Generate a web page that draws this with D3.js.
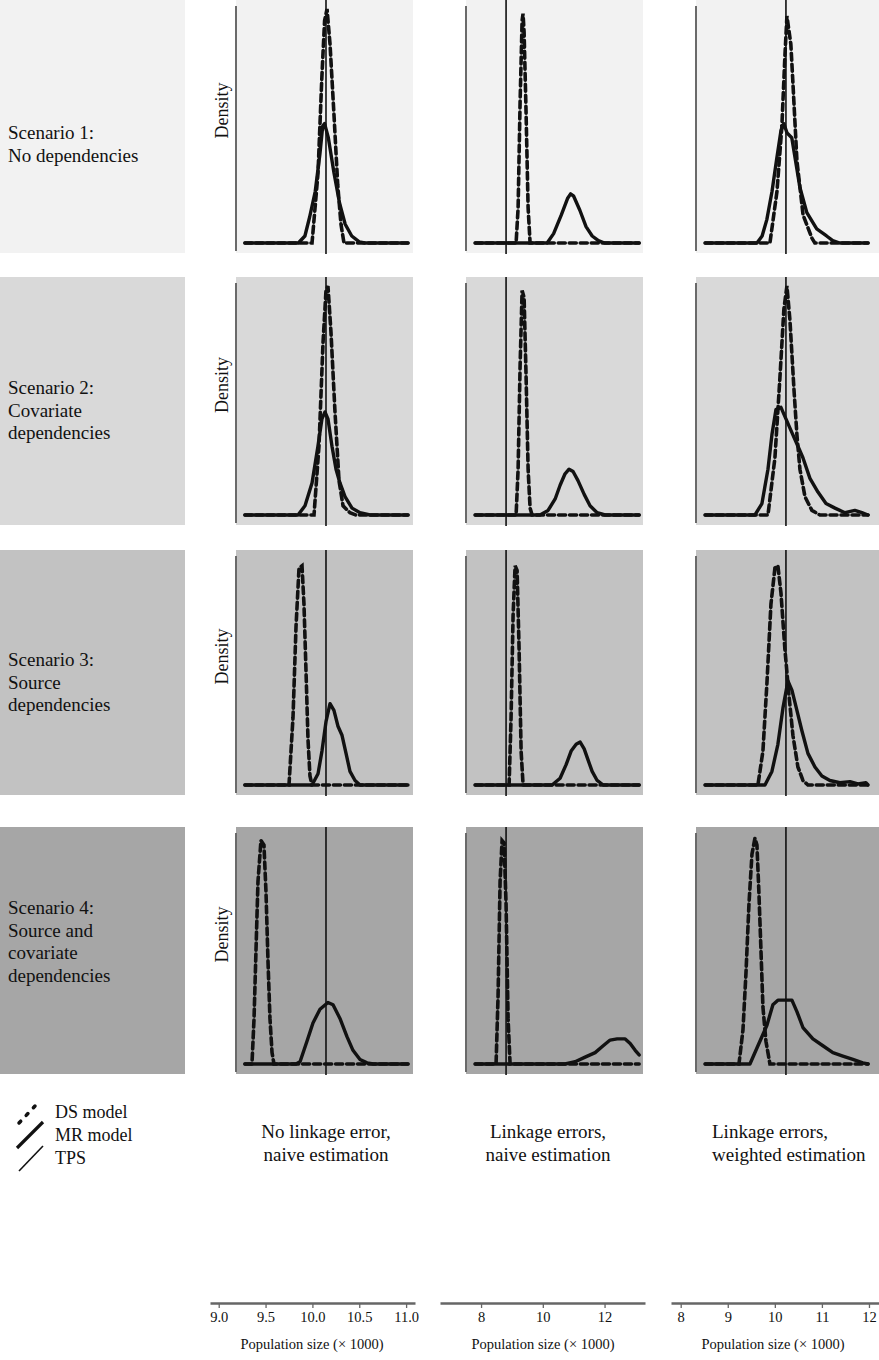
<!DOCTYPE html>
<html><head><meta charset="utf-8">
<script src="https://cdn.jsdelivr.net/npm/d3@7"></script>
<style>
html,body{margin:0;padding:0;background:#fff;}
svg{display:block;font-family:"Liberation Serif","Times New Roman",serif;}
</style></head>
<body>
<svg id="chart" width="879" height="1360"></svg>
<script>
// ---------------- DATA ----------------
const scenarioLabels = [
  ["Scenario 1:", "No dependencies"],
  ["Scenario 2:", "Covariate", "dependencies"],
  ["Scenario 3:", "Source", "dependencies"],
  ["Scenario 4:", "Source and", "covariate", "dependencies"]
];
const methodLabels = [
  ["No linkage error,", "naive estimation"],
  ["Linkage errors,", "naive estimation"],
  ["Linkage errors,", "weighted estimation"]
];
const axisTitle = "Population size (\u00d7 1000)";
const yLabel = "Density";
const legendLabels = ["DS model", "MR model", "TPS"];

const ticksNoError = [9.0, 9.5, 10.0, 10.5, 11.0];
const ticksNaive = [8, 10, 12];
const ticksWeighted = [8, 9, 10, 11, 12];

const domainNoError = [8.907, 11.095];
const domainNaive = [6.67, 13.31];
const domainWeighted = [7.794, 12.213];

// true population size line (TPS) per column
const tpsValues = [10.145, 8.81, 10.236];

// density curves: [population size (x1000), relative density 0-100]
// Scenario 1
const ds_s1_noError = [[9.28,0],[9.996,0],[10.06,30],[10.10,70],[10.13,95],[10.156,100],[10.188,85],[10.23,55],[10.27,25],[10.305,8],[10.337,0],[11.02,0]];
const mr_s1_noError = [[9.28,0],[9.85,0],[9.92,3],[9.97,11],[10.03,22],[10.08,38],[10.11,50],[10.13,51],[10.17,45],[10.23,30],[10.29,17],[10.35,8],[10.42,3],[10.5,0.5],[10.56,0],[11.02,0]];
const ds_s1_naive = [[7.81,0],[9.135,0],[9.20,15],[9.264,60],[9.329,95],[9.36,98],[9.394,90],[9.459,55],[9.524,15],[9.588,0],[13.12,0]];
const mr_s1_naive = [[7.81,0],[10.14,0],[10.35,4],[10.6,12],[10.8,19],[10.9,21],[11.0,20],[11.2,14],[11.4,7],[11.6,3],[11.8,1],[12.0,0],[13.12,0]];
const ds_s1_weighted = [[8.52,0],[9.896,0],[10.045,22],[10.15,50],[10.214,80],[10.257,97],[10.34,85],[10.38,70],[10.47,35],[10.60,12],[10.79,2],[10.85,0],[11.98,0]];
const mr_s1_weighted = [[8.52,0],[9.62,0],[9.73,3],[9.83,10],[9.94,22],[10.04,36],[10.13,48],[10.19,51],[10.26,47],[10.36,45],[10.53,24],[10.68,13],[10.89,6],[11.1,3],[11.23,1],[11.38,0],[11.98,0]];
// Scenario 2
const ds_s2_noError = [[9.28,0],[10.017,0],[10.07,30],[10.113,75],[10.145,98],[10.166,100],[10.198,80],[10.241,45],[10.284,15],[10.327,4],[10.401,1],[10.465,0],[11.02,0]];
const mr_s2_noError = [[9.28,0],[9.846,0],[9.921,4],[9.996,14],[10.059,30],[10.102,42],[10.134,45],[10.166,42],[10.209,30],[10.252,20],[10.294,14],[10.348,8],[10.423,3],[10.508,1],[10.615,0],[11.02,0]];
const ds_s2_naive = [[7.81,0],[9.135,0],[9.20,20],[9.264,65],[9.329,98],[9.394,95],[9.459,60],[9.524,20],[9.588,3],[9.653,0],[13.12,0]];
const mr_s2_naive = [[7.81,0],[9.91,0],[10.17,2],[10.40,7],[10.56,13],[10.72,18],[10.85,20],[10.98,19],[11.14,15],[11.34,9],[11.53,4],[11.76,1],[12.02,0],[13.12,0]];
const ds_s2_weighted = [[8.52,0],[9.854,0],[10.002,25],[10.108,60],[10.193,90],[10.257,100],[10.321,85],[10.406,55],[10.469,35],[10.533,20],[10.64,8],[10.788,2],[10.958,0],[11.98,0]];
const mr_s2_weighted = [[8.52,0],[9.577,0],[9.726,5],[9.854,20],[9.938,35],[10.023,46],[10.13,47],[10.236,42],[10.363,36],[10.491,30],[10.597,25],[10.746,16],[10.916,10],[11.087,5],[11.278,3],[11.49,1],[11.70,2],[11.85,1],[11.98,0]];
// Scenario 3
const ds_s3_noError = [[9.28,0],[9.75,0],[9.793,30],[9.825,70],[9.857,96],[9.889,97],[9.910,80],[9.932,50],[9.953,20],[9.974,4],[9.996,0],[11.02,0]];
const mr_s3_noError = [[9.28,0],[9.996,0],[10.06,5],[10.102,15],[10.145,28],[10.188,36],[10.23,33],[10.273,26],[10.316,22],[10.359,14],[10.401,6],[10.455,2],[10.508,0],[11.02,0]];
const ds_s3_naive = [[7.81,0],[8.908,0],[8.972,30],[9.037,75],[9.102,97],[9.167,95],[9.232,60],[9.297,15],[9.361,0],[13.12,0]];
const mr_s3_naive = [[7.81,0],[10.30,0],[10.56,3],[10.755,9],[10.917,15],[11.08,18],[11.21,19],[11.34,16],[11.468,11],[11.598,6],[11.76,2],[11.955,0],[13.12,0]];
const ds_s3_weighted = [[8.52,0],[9.641,0],[9.747,15],[9.832,45],[9.917,80],[10.002,96],[10.065,97],[10.13,85],[10.214,60],[10.299,40],[10.384,22],[10.49,8],[10.597,2],[10.703,0],[11.98,0]];
const mr_s3_weighted = [[8.52,0],[9.79,0],[9.938,6],[10.065,18],[10.172,34],[10.278,46],[10.363,42],[10.469,33],[10.575,24],[10.703,14],[10.852,8],[11.0,4],[11.17,2],[11.383,1],[11.595,1.5],[11.765,0.5],[11.935,1],[11.98,0]];
// Scenario 4
const ds_s4_noError = [[9.28,0],[9.355,0],[9.377,20],[9.398,50],[9.419,80],[9.451,98],[9.483,96],[9.505,75],[9.526,45],[9.547,20],[9.569,5],[9.59,0],[11.02,0]];
const mr_s4_noError = [[9.28,0],[9.825,0],[9.868,1],[9.942,10],[10.006,18],[10.081,24],[10.166,27],[10.22,26],[10.294,20],[10.369,12],[10.433,6],[10.508,2],[10.583,0.5],[10.65,0],[11.02,0]];
const ds_s4_naive = [[7.81,0],[8.486,0],[8.551,30],[8.616,80],[8.681,98],[8.746,97],[8.81,70],[8.875,20],[8.94,0],[13.12,0]];
const mr_s4_naive = [[7.81,0],[10.723,0],[11.047,1],[11.371,3],[11.695,5],[11.955,8],[12.18,10.5],[12.408,11],[12.668,11],[12.83,9],[12.992,6],[13.12,4]];
const ds_s4_weighted = [[8.52,0],[9.238,0],[9.323,15],[9.387,40],[9.45,70],[9.514,92],[9.577,99],[9.62,96],[9.662,75],[9.705,50],[9.747,25],[9.811,10],[9.896,0],[11.98,0]];
const mr_s4_weighted = [[8.52,0],[9.471,0],[9.683,10],[9.832,17],[9.959,26],[10.065,28],[10.363,28],[10.469,23],[10.597,16],[10.809,11],[11.021,8],[11.233,5],[11.445,3.5],[11.658,2],[11.87,0.5],[11.98,0]];

const dsCurves = [
  [ds_s1_noError, ds_s1_naive, ds_s1_weighted],
  [ds_s2_noError, ds_s2_naive, ds_s2_weighted],
  [ds_s3_noError, ds_s3_naive, ds_s3_weighted],
  [ds_s4_noError, ds_s4_naive, ds_s4_weighted]
];
const mrCurves = [
  [mr_s1_noError, mr_s1_naive, mr_s1_weighted],
  [mr_s2_noError, mr_s2_naive, mr_s2_weighted],
  [mr_s3_noError, mr_s3_naive, mr_s3_weighted],
  [mr_s4_noError, mr_s4_naive, mr_s4_weighted]
];

// ---------------- LAYOUT ----------------
const rowBg = ["#f2f2f2", "#d9d9d9", "#c2c2c2", "#a6a6a6"];
const rowTop = [0, 277, 550, 827];
const rowBottom = [253, 525, 795, 1074];
const colLeft = [236, 466, 696];
const colRight = [413, 643, 879];
const axisLeft = [210, 440, 671];
const axisRight = [415, 645, 879];
const axisY = 1303;
const colTicks = [ticksNoError, ticksNaive, ticksWeighted];
const colDomains = [domainNoError, domainNaive, domainWeighted];
const colFormats = [d3.format(".1f"), d3.format("d"), d3.format("d")];

const svg = d3.select("#chart");

const xScales = colDomains.map((d, i) => d3.scaleLinear().domain(d).range([axisLeft[i], axisRight[i]]));

// Scenario label column
rowTop.forEach((t, r) => {
  svg.append("rect").attr("x", 0).attr("y", t).attr("width", 185).attr("height", rowBottom[r] - t).attr("fill", rowBg[r]);
  const firstY = [139, 394, 666, 914][r];
  const txt = svg.append("text").attr("x", 8).attr("font-size", 19).attr("fill", "#111");
  scenarioLabels[r].forEach((line, k) => {
    txt.append("tspan").attr("x", 8).attr("y", firstY + k * 22.7).text(line);
  });
});

const line = d3.line().curve(d3.curveLinear);

for (let r = 0; r < 4; r++) {
  const yScale = d3.scaleLinear().domain([0, 100]).range([rowBottom[r] - 10, rowTop[r] + 9]);
  for (let c = 0; c < 3; c++) {
    const x = xScales[c];
    const g = svg.append("g");
    g.append("rect").attr("x", colLeft[c]).attr("y", rowTop[r])
      .attr("width", colRight[c] - colLeft[c]).attr("height", rowBottom[r] - rowTop[r])
      .attr("fill", rowBg[r]);
    g.append("line").attr("x1", colLeft[c]).attr("x2", colLeft[c])
      .attr("y1", rowTop[r] + 6).attr("y2", rowBottom[r] - 2)
      .attr("stroke", "#6a6a6a").attr("stroke-width", 2);
    g.append("line").attr("x1", x(tpsValues[c])).attr("x2", x(tpsValues[c]))
      .attr("y1", rowTop[r]).attr("y2", rowBottom[r] + 1)
      .attr("stroke", "#111").attr("stroke-width", 1.6);
    g.append("path").datum(mrCurves[r][c])
      .attr("d", line.x(d => x(d[0])).y(d => yScale(d[1])))
      .attr("fill", "none").attr("stroke", "#111").attr("stroke-width", 3.4)
      .attr("stroke-linejoin", "round").attr("stroke-linecap", "round");
    g.append("path").datum(dsCurves[r][c])
      .attr("d", line.x(d => x(d[0])).y(d => yScale(d[1])))
      .attr("fill", "none").attr("stroke", "#111").attr("stroke-width", 3.6)
      .attr("stroke-dasharray", "7,4").attr("stroke-linecap", "round");
  }
  const cy = (rowTop[r] + rowBottom[r]) / 2 - 16;
  svg.append("text").attr("transform", `translate(228,${cy}) rotate(-90)`)
    .attr("text-anchor", "middle").attr("font-size", 18).attr("fill", "#111").text(yLabel);
}

// Method labels
const methodX = [326, 548, 712];
const methodAnchor = ["middle", "middle", "start"];
methodLabels.forEach((lines, c) => {
  const t = svg.append("text").attr("font-size", 19).attr("fill", "#111").attr("text-anchor", methodAnchor[c]);
  lines.forEach((l, k) => t.append("tspan").attr("x", methodX[c]).attr("y", 1138 + k * 23).text(l));
});

// Legend
const lg = svg.append("g");
lg.append("path").attr("d", d3.line()([[19, 1123], [35, 1106]]))
  .attr("stroke", "#111").attr("stroke-width", 3.5).attr("stroke-dasharray", "2.5,8").attr("stroke-linecap", "round");
lg.append("path").attr("d", d3.line()([[17, 1148], [43, 1122]]))
  .attr("stroke", "#111").attr("stroke-width", 3.2);
lg.append("path").attr("d", d3.line()([[19, 1171], [43, 1146]]))
  .attr("stroke", "#111").attr("stroke-width", 1.6);
legendLabels.forEach((l, i) => {
  lg.append("text").attr("x", 55).attr("y", 1118 + i * 23).attr("font-size", 18).attr("fill", "#111").text(l);
});

// Bottom axes
const titleX = [312, 543, 773];
xScales.forEach((x, c) => {
  const ag = svg.append("g").attr("transform", `translate(0,${axisY})`);
  const axis = d3.axisBottom(x).tickValues(colTicks[c]).tickFormat(colFormats[c]).tickSize(5).tickPadding(4).tickSizeOuter(0);
  ag.call(axis);
  ag.select(".domain").attr("stroke", "#666").attr("stroke-width", 2.5);
  ag.selectAll(".tick line").attr("stroke", "#666").attr("stroke-width", 1.3);
  ag.selectAll(".tick text").attr("font-size", 14.5).attr("fill", "#111")
    .attr("font-family", "Liberation Serif, serif");
  svg.append("text").attr("x", titleX[c]).attr("y", 1349)
    .attr("text-anchor", "middle").attr("font-size", 14.5).attr("fill", "#111").text(axisTitle);
});
</script>
</body></html>
